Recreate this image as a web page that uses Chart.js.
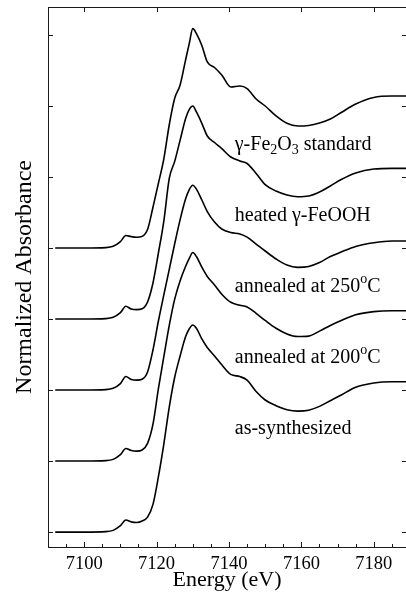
<!DOCTYPE html>
<html>
<head>
<meta charset="utf-8">
<script src="https://cdn.jsdelivr.net/npm/chart.js@4.4.1/dist/chart.umd.min.js"></script>
<style>
    html, body { margin: 0; padding: 0; background: #fff; overflow: hidden; }
    canvas { display: block; }
</style>
</head>
<body>
<canvas id="xanes" width="406" height="594"></canvas>
<script>
// energy grid (eV)
const energy = [7092, 7100, 7106, 7108, 7110, 7111.5, 7113, 7114.5, 7116, 7117.5,
    7119, 7120.5, 7122, 7123.5, 7125, 7126.5, 7128, 7129, 7130, 7131,
    7132.5, 7134, 7136, 7138, 7140.5, 7143, 7145, 7147.5, 7150, 7153,
    7156, 7159, 7162, 7165, 7168, 7171, 7175, 7180, 7185, 7189];

// normalized absorbance, before stacking
const asSynthesized = [0, 0, 0.003, 0.012, 0.045, 0.085, 0.072, 0.068, 0.078, 0.105,
    0.195, 0.39, 0.62, 0.88, 1.09, 1.24, 1.375, 1.43, 1.458, 1.435,
    1.36, 1.3, 1.24, 1.178, 1.11, 1.095, 1.07, 0.99, 0.93, 0.89,
    0.862, 0.852, 0.858, 0.885, 0.925, 0.965, 1.02, 1.05, 1.058, 1.058];
const annealed200 = [0, 0, 0.003, 0.012, 0.045, 0.089, 0.074, 0.07, 0.078, 0.125,
    0.26, 0.51, 0.735, 0.955, 1.14, 1.27, 1.37, 1.425, 1.468, 1.44,
    1.365, 1.3, 1.24, 1.175, 1.118, 1.097, 1.085, 1.04, 0.99, 0.935,
    0.895, 0.877, 0.88, 0.915, 0.955, 0.99, 1.03, 1.052, 1.058, 1.058];
const annealed250 = [0, 0, 0.003, 0.012, 0.045, 0.095, 0.075, 0.07, 0.076, 0.127,
    0.282, 0.486, 0.67, 0.85, 1.03, 1.2, 1.345, 1.41, 1.442, 1.415,
    1.338, 1.257, 1.183, 1.134, 1.109, 1.099, 1.077, 1.028, 0.979, 0.923,
    0.88, 0.864, 0.87, 0.898, 0.94, 0.972, 1.011, 1.037, 1.049, 1.049];
const heatedFeOOH = [0, 0, 0.003, 0.012, 0.045, 0.09, 0.07, 0.066, 0.072, 0.12,
    0.254, 0.465, 0.69, 0.99, 1.11, 1.26, 1.41, 1.475, 1.5, 1.458,
    1.378, 1.289, 1.243, 1.2, 1.141, 1.113, 1.095, 1.025, 0.947, 0.901,
    0.873, 0.861, 0.866, 0.894, 0.937, 0.982, 1.028, 1.056, 1.061, 1.061];
const fe2o3Standard = [0, 0, 0.003, 0.012, 0.045, 0.088, 0.08, 0.076, 0.082, 0.13,
    0.287, 0.456, 0.628, 0.868, 1.054, 1.148, 1.323, 1.437, 1.545, 1.51,
    1.426, 1.31, 1.271, 1.218, 1.134, 1.141, 1.123, 1.049, 1.0, 0.93,
    0.878, 0.859, 0.863, 0.88, 0.908, 0.954, 1.014, 1.06, 1.07, 1.07];

const spectra = [asSynthesized, annealed200, annealed250, heatedFeOOH, fe2o3Standard];
const stackOffsets = [0, 0.5, 1.0, 1.5, 2.0];

// label text as runs: [text, "sub"|"sup"|""]
const curveNames = [
    [["as-synthesized", ""]],
    [["annealed at 200", ""], ["o", "sup"], ["C", ""]],
    [["annealed at 250", ""], ["o", "sup"], ["C", ""]],
    [["heated \u03b3-FeOOH", ""]],
    [["\u03b3-Fe", ""], ["2", "sub"], ["O", ""], ["3", "sub"], [" standard", ""]],
];

const xMajorTicks = [7100, 7120, 7140, 7160, 7180];
const xMinorTicks = [7095, 7105, 7110, 7115, 7125, 7130, 7135, 7145, 7150, 7155, 7165, 7170, 7175, 7185];
const yTicks = [0, 0.5, 1.0, 1.5, 2.0, 2.5, 3.0, 3.5];

const SERIF = "'Liberation Serif', 'Times New Roman', serif";

const frameAndLabels = {
    id: "frameAndLabels",
    afterDatasetsDraw(chart, args, opts) {
        const { ctx, chartArea: a, scales: { x, y } } = chart;
        ctx.save();
        ctx.strokeStyle = "#1a1a1a";
        ctx.lineWidth = 1;
        ctx.strokeRect(a.left + 0.5, a.top + 0.5, a.right - a.left, a.bottom - a.top);

        ctx.beginPath();
        const tick = (v, len, top) => {
            const px = Math.round(x.getPixelForValue(v)) + 0.5;
            ctx.moveTo(px, a.bottom);
            ctx.lineTo(px, a.bottom - len);
            if (top) {
                ctx.moveTo(px, a.top);
                ctx.lineTo(px, a.top + 5);
            }
        };
        xMajorTicks.forEach((v) => tick(v, 5, true));
        xMinorTicks.forEach((v) => tick(v, 3, false));
        yTicks.forEach((v) => {
            const py = Math.round(y.getPixelForValue(v)) + 0.5;
            ctx.moveTo(a.left, py);
            ctx.lineTo(a.left + 5, py);
            ctx.moveTo(a.right, py);
            ctx.lineTo(a.right - 4, py);
        });
        ctx.stroke();

        // curve names
        ctx.fillStyle = "#000";
        ctx.textBaseline = "alphabetic";
        ctx.textAlign = "left";
        curveNames.forEach((runs, i) => {
            let px = x.getPixelForValue(opts.labelEnergy);
            const py = y.getPixelForValue(stackOffsets[i] + opts.labelRise);
            runs.forEach(([t, kind]) => {
                let size = 20, dy = 0;
                if (kind === "sub") { size = 14; dy = 4; }
                if (kind === "sup") { size = 14; dy = -9; }
                ctx.font = size + "px " + SERIF;
                ctx.fillText(t, px, py + dy);
                px += ctx.measureText(t).width;
            });
        });
        ctx.restore();
    },
};

const datasets = spectra.map((s, i) => ({
    label: curveNames[i].map((r) => r[0]).join(""),
    data: energy.map((e, j) => ({ x: e, y: s[j] + stackOffsets[i] })),
    borderColor: "#000",
    borderWidth: 1.6,
    pointRadius: 0,
    fill: false,
    cubicInterpolationMode: "monotone",
}));

new Chart(document.getElementById("xanes"), {
    type: "line",
    data: { datasets },
    plugins: [frameAndLabels],
    options: {
        responsive: false,
        animation: false,
        devicePixelRatio: 1,
        layout: { padding: { top: 7, left: 0, right: 0, bottom: 0 } },
        plugins: {
            legend: { display: false },
            tooltip: { enabled: false },
            frameAndLabels: { labelEnergy: 7141.6, labelRise: 0.69 },
        },
        scales: {
            x: {
                type: "linear",
                min: 7090,
                max: 7188.9,
                afterBuildTicks: (s) => { s.ticks = xMajorTicks.map((v) => ({ value: v })); },
                afterFit: (s) => { s.height = 47; },
                grid: { display: false, drawTicks: false },
                border: { display: false },
                ticks: {
                    color: "#000",
                    padding: 6,
                    font: { family: SERIF, size: 18.5 },
                    callback: (v) => String(v),
                },
                title: {
                    display: true,
                    text: "Energy (eV)",
                    color: "#000",
                    font: { family: SERIF, size: 22 },
                    padding: { top: 0, bottom: 1 },
                },
            },
            y: {
                min: -0.105,
                max: 3.697,
                afterBuildTicks: (s) => { s.ticks = yTicks.map((v) => ({ value: v })); },
                afterFit: (s) => { s.width = 48; },
                grid: { display: false, drawTicks: false },
                border: { display: false },
                ticks: { display: false },
                title: {
                    display: true,
                    text: "Normalized Absorbance",
                    color: "#000",
                    font: { family: SERIF, size: 24 },
                    padding: { top: 10, bottom: 0 },
                },
            },
        },
    },
});
</script>
</body>
</html>
